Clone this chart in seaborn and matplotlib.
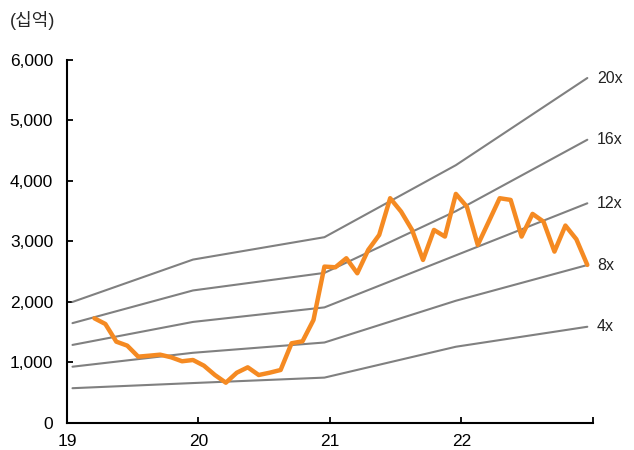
import numpy as np
import pandas as pd
import matplotlib
matplotlib.use("Agg")
import matplotlib.pyplot as plt
import seaborn as sns
from matplotlib.ticker import FuncFormatter

# PER band knots (month index from Jan 2019)
band_x = [0.5, 11.5, 23.5, 35.5, 47.5]
band_4x = [575, 660, 750, 1260, 1590]
band_8x = [930, 1160, 1330, 2020, 2610]
band_12x = [1290, 1670, 1910, 2770, 3630]
band_16x = [1650, 2190, 2480, 3500, 4680]
band_20x = [2000, 2700, 3070, 4260, 5700]
band_names = ["4x", "8x", "12x", "16x", "20x"]

# market cap, monthly from Mar 2019
cap_x = [i + 0.5 for i in range(2, 48)]
cap_vals = [1730, 1636, 1344, 1278, 1096, 1112, 1129, 1086, 1020, 1041,
            947, 793, 666, 831, 920, 793, 831, 876, 1317, 1350,
            1702, 2584, 2573, 2722, 2474, 2860, 3107, 3714, 3493, 3190,
            2694, 3190, 3080, 3785, 3575, 2942, 3327, 3714, 3686, 3080,
            3455, 3327, 2832, 3262, 3036, 2612]

x_ticks = [0, 12, 24, 36, 48]
x_labels = ["19", "20", "21", "22", ""]

sns.set_style("ticks")
plt.rcParams["font.family"] = ["Liberation Sans", "Noto Sans CJK KR", "DejaVu Sans"]

fig = plt.figure(figsize=(6.34, 4.5), dpi=100)
ax = fig.add_axes([0.1057, 0.06, 0.8293, 0.807])

bands = [band_4x, band_8x, band_12x, band_16x, band_20x]
for name, vals in zip(band_names, bands):
    sns.lineplot(x=band_x, y=vals, ax=ax, color="#808080", linewidth=1.5)
    ax.annotate(name, xy=(band_x[-1], vals[-1]), xytext=(7, 0),
                textcoords="offset points", ha="left", va="center",
                fontsize=11.5, color="#222222")

sns.lineplot(x=cap_x, y=cap_vals, ax=ax, color="#F58A22", linewidth=3.2)

ax.set_xlim(0, 48)
ax.set_ylim(0, 6000)
ax.set_xticks(x_ticks)
ax.set_xticklabels(x_labels)
ax.set_yticks(range(0, 6001, 1000))
ax.yaxis.set_major_formatter(FuncFormatter(lambda v, p: f"{int(v):,}"))
ax.tick_params(axis="both", direction="in", length=4, width=1.3,
               labelsize=12.5, colors="black")
ax.tick_params(axis="y", pad=10)
ax.tick_params(axis="x", pad=8)
for s in ["top", "right"]:
    ax.spines[s].set_visible(False)
for s in ["left", "bottom"]:
    ax.spines[s].set_linewidth(1.5)
    ax.spines[s].set_color("black")
ax.set_xlabel("")
ax.set_ylabel("")

fig.text(0.016, 0.955, "(십억)", fontsize=13, ha="left", va="center")

fig.savefig("out.png", dpi=100)
